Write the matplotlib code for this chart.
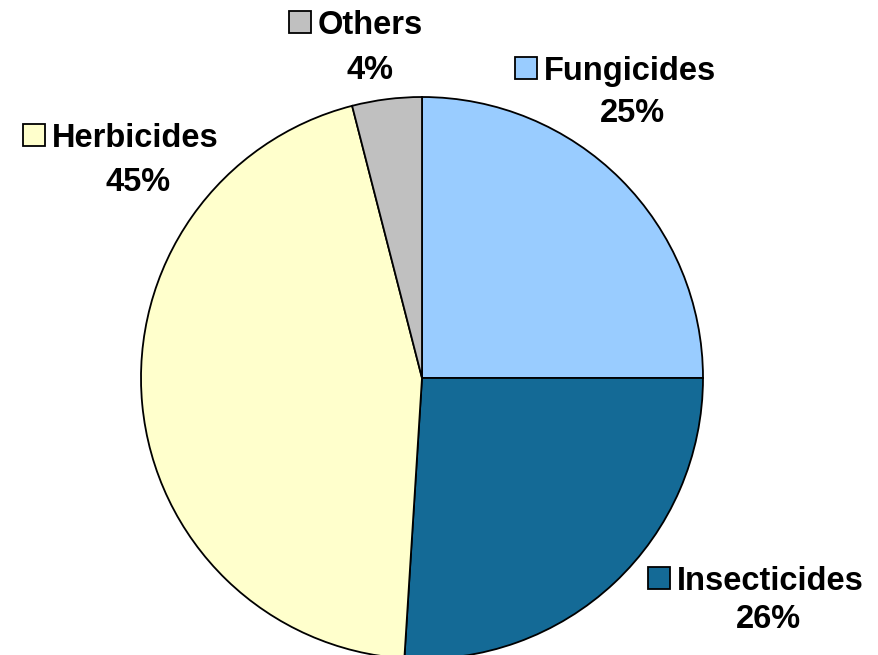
import matplotlib
matplotlib.use("Agg")
import matplotlib.pyplot as plt
from matplotlib.patches import Rectangle

categories = ["Fungicides", "Insecticides", "Herbicides", "Others"]
values = [25, 26, 45, 4]
colors = ["#99CCFF", "#146A96", "#FFFFCC", "#C0C0C0"]

W, H = 879, 655
fig = plt.figure(figsize=(W / 100, H / 100), dpi=100)
ax = fig.add_axes([0, 0, 1, 1])
ax.set_xlim(0, W)
ax.set_ylim(0, H)

ax.pie(values, colors=colors, startangle=90, counterclock=False,
       center=(422, H - 378), radius=281,
       wedgeprops=dict(edgecolor="black", linewidth=1.3))
ax.set_xlim(0, W)
ax.set_ylim(0, H)
ax.set_aspect("equal")
ax.axis("off")

# label layout (pixel coords from top): box_left, name_y, pct_center_x, pct_y
layout = {
    "Fungicides": (515, 68, 632, 110),
    "Insecticides": (648, 578, 768, 616),
    "Herbicides": (23, 135, 138, 179),
    "Others": (289, 22, 370, 67),
}
fs = 23.5
font = dict(family=["Liberation Sans", "DejaVu Sans"], weight="bold", size=fs)
box = 22
for cat, val, col in zip(categories, values, colors):
    bx, ny, pcx, py = layout[cat]
    ax.add_patch(Rectangle((bx, H - ny - box / 2), box, box, facecolor=col,
                           edgecolor="black", linewidth=1.3, clip_on=False))
    ax.text(bx + box + 7, H - ny, cat, ha="left", va="center_baseline", **font)
    ax.text(pcx, H - py, f"{val}%", ha="center", va="center_baseline", **font)

fig.savefig("out.png", dpi=100)
